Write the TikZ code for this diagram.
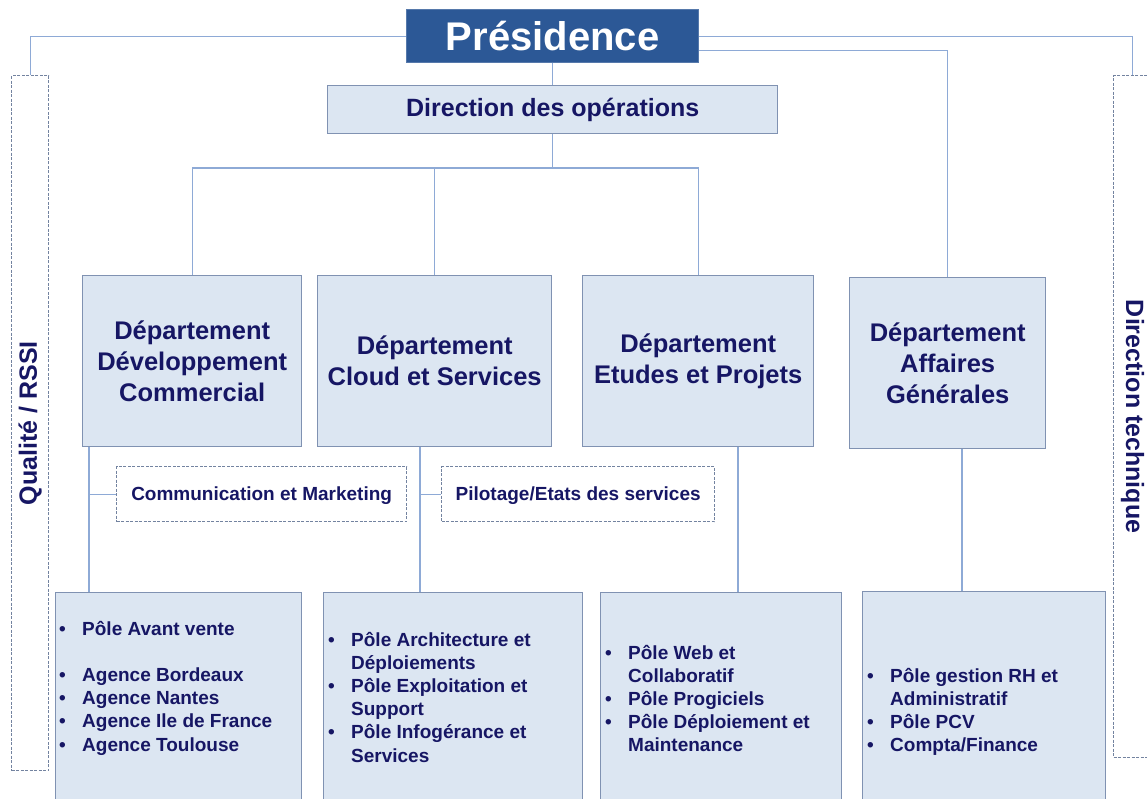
\documentclass[tikz,border=0pt]{standalone}
\usepackage{fontspec}
\setmainfont{Liberation Sans}
\usepackage{tikz}

\definecolor{navy}{RGB}{22,22,100}
\definecolor{boxfill}{RGB}{220,230,242}
\definecolor{boxline}{RGB}{128,146,178}
\definecolor{linkline}{RGB}{142,170,214}
\definecolor{presfill}{RGB}{44,88,150}

\tikzset{
  orgbox/.style={draw=boxline,fill=boxfill,line width=1.4pt,inner sep=0pt,anchor=north west,
    text=navy,align=center,font=\bfseries\fontsize{25.5}{31}\selectfont},
  dashbox/.style={draw=boxline!90!black,dash pattern=on 3pt off 1.5pt,line width=1.3pt,inner sep=0pt,
    anchor=north west,text=navy,font=\bfseries\fontsize{19}{23}\selectfont},
  listtext/.style={anchor=base west,inner sep=0pt,text=navy,font=\bfseries\fontsize{19}{23.2}\selectfont},
  link/.style={draw=linkline,line width=1.3pt},
}

\begin{document}
\begin{tikzpicture}[x=1pt,y=-1pt]
\useasboundingbox (0,0) rectangle (1147,798);

% top
\node[orgbox,fill=presfill,draw=presfill!80!white,text=white,minimum width=292pt,minimum height=53pt,
      font=\bfseries\fontsize{40}{48}\selectfont] (pres) at (406,9) {Présidence};
\node[orgbox,minimum width=450pt,minimum height=48pt,font=\bfseries\fontsize{25}{30}\selectfont]
      (dir) at (327,85) {Direction des opérations};

% side boxes
\node[dashbox,minimum width=37pt,minimum height=695pt,font=\bfseries\fontsize{25}{30}\selectfont]
      (qual) at (11,75) {\rotatebox{90}{Qualité / RSSI}};
\node[dashbox,minimum width=38pt,minimum height=682pt,font=\bfseries\fontsize{25}{30}\selectfont]
      (dtech) at (1113,75) {\rotatebox{-90}{Direction technique}};

% departements
\node[orgbox,minimum width=219pt,minimum height=171pt] (dev) at (82,275) {Département\\Développement\\Commercial};
\node[orgbox,minimum width=234pt,minimum height=171pt] (cloud) at (317,275) {Département\\Cloud et Services};
\node[orgbox,minimum width=231pt,minimum height=171pt] (etu) at (582,275) {Département\\Etudes et Projets};
\node[orgbox,minimum width=196pt,minimum height=171pt] (aff) at (849,277) {Département\\Affaires\\Générales};

\node[dashbox,minimum width=290pt,minimum height=55pt,text depth=2pt] (comm) at (116,466) {Communication et Marketing};
\node[dashbox,minimum width=273pt,minimum height=55pt,text depth=2pt] (pil) at (441,466) {Pilotage/Etats des services};

% poles
\node[orgbox,minimum width=246pt,minimum height=220pt] (p1) at (55,592) {};
\node[orgbox,minimum width=259pt,minimum height=220pt] (p2) at (323,592) {};
\node[orgbox,minimum width=241pt,minimum height=220pt] (p3) at (600,592) {};
\node[orgbox,minimum width=243pt,minimum height=220pt] (p4) at (862,591) {};

\node[listtext] (l1) at (59,635) {\begin{tabular}[t]{@{}p{23pt}@{}l@{}}
  • & Pôle Avant vente\\ & \\
  • & Agence Bordeaux\\
  • & Agence Nantes\\
  • & Agence Ile de France\\
  • & Agence Toulouse\end{tabular}};
\node[listtext] (l2) at (328,646) {\begin{tabular}[t]{@{}p{23pt}@{}l@{}}
  • & Pôle Architecture et\\ & Déploiements\\
  • & Pôle Exploitation et\\ & Support\\
  • & Pôle Infogérance et\\ & Services\end{tabular}};
\node[listtext] (l3) at (605,659) {\begin{tabular}[t]{@{}p{23pt}@{}l@{}}
  • & Pôle Web et\\ & Collaboratif\\
  • & Pôle Progiciels\\
  • & Pôle Déploiement et\\ & Maintenance\end{tabular}};
\node[listtext] (l4) at (867,682) {\begin{tabular}[t]{@{}p{23pt}@{}l@{}}
  • & Pôle gestion RH et\\ & Administratif\\
  • & Pôle PCV\\
  • & Compta/Finance\end{tabular}};

% liens
\coordinate (hub) at (552,168);
\draw[link] (pres.west) -| (qual.north);
\draw[link] (pres.east) -| (dtech.north);
\draw[link] ([yshift=-14pt]pres.east) -| (aff.north);
\draw[link] (pres.south) -- (dir.north);
\draw[link] (dir.south) -- (dir.south |- hub);
\draw[link] (dev.north) |- (hub) -| (etu.north);
\draw[link] (cloud.north) -- (cloud.north |- hub);
\draw[link] (dev.south west) ++(7,0) coordinate (a1) -- (a1 |- p1.north);
\draw[link] (a1 |- comm.west) -- (comm.west);
\draw[link] (cloud.south west) ++(103,0) coordinate (a2) -- (a2 |- p2.north);
\draw[link] (a2 |- pil.west) -- (pil.west);
\draw[link] (etu.south west) ++(156,0) coordinate (a3) -- (a3 |- p3.north);
\draw[link] (aff.south west) ++(113,0) coordinate (a4) -- (a4 |- p4.north);
\end{tikzpicture}
\end{document}
